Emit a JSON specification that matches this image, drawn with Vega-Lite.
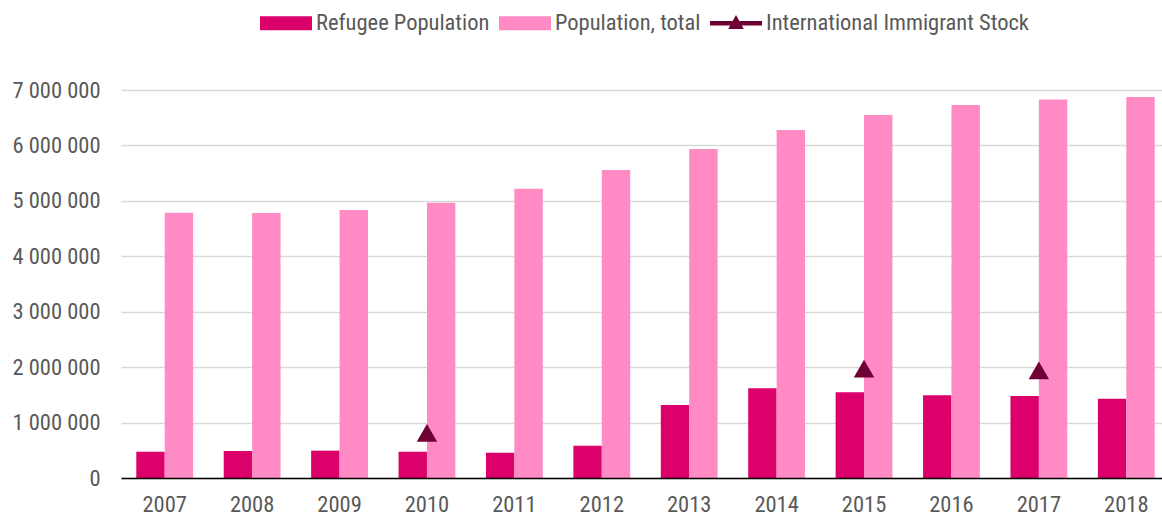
{
  "$schema": "https://vega.github.io/schema/vega-lite/v6.json",
  "width": 1049,
  "height": 388,
  "autosize": {"type": "none"},
  "padding": {"left": 121, "top": 90, "right": 0, "bottom": 37},
  "background": "white",
  "config": {
    "view": {"stroke": null},
    "font": "Roboto Condensed, Liberation Sans Narrow, Arial Narrow, Liberation Sans, sans-serif"
  },
  "data": {
    "values": [
      {"year": "2007", "series": "Refugee Population", "value": 474000},
      {"year": "2008", "series": "Refugee Population", "value": 487000},
      {"year": "2009", "series": "Refugee Population", "value": 493000},
      {"year": "2010", "series": "Refugee Population", "value": 474000},
      {"year": "2011", "series": "Refugee Population", "value": 456000},
      {"year": "2012", "series": "Refugee Population", "value": 583000},
      {"year": "2013", "series": "Refugee Population", "value": 1317000},
      {"year": "2014", "series": "Refugee Population", "value": 1618000},
      {"year": "2015", "series": "Refugee Population", "value": 1546000},
      {"year": "2016", "series": "Refugee Population", "value": 1492000},
      {"year": "2017", "series": "Refugee Population", "value": 1480000},
      {"year": "2018", "series": "Refugee Population", "value": 1431000},
      {"year": "2007", "series": "Population, total", "value": 4786000},
      {"year": "2008", "series": "Population, total", "value": 4780000},
      {"year": "2009", "series": "Population, total", "value": 4835000},
      {"year": "2010", "series": "Population, total", "value": 4967000},
      {"year": "2011", "series": "Population, total", "value": 5220000},
      {"year": "2012", "series": "Population, total", "value": 5557000},
      {"year": "2013", "series": "Population, total", "value": 5935000},
      {"year": "2014", "series": "Population, total", "value": 6278000},
      {"year": "2015", "series": "Population, total", "value": 6549000},
      {"year": "2016", "series": "Population, total", "value": 6730000},
      {"year": "2017", "series": "Population, total", "value": 6830000},
      {"year": "2018", "series": "Population, total", "value": 6874000},
      {"year": "2010", "series": "International Immigrant Stock", "value": 815000},
      {"year": "2015", "series": "International Immigrant Stock", "value": 1975000},
      {"year": "2017", "series": "International Immigrant Stock", "value": 1940000}
    ]
  },
  "encoding": {
    "x": {
      "field": "year",
      "type": "ordinal",
      "scale": {"paddingInner": 0.35, "paddingOuter": 0.175},
      "axis": {
        "title": null,
        "labelAngle": 0,
        "labelFontSize": 22.5,
        "labelColor": "#595959",
        "labelPadding": 15,
        "labelBaseline": "top",
        "ticks": false,
        "domainColor": "#000000",
        "domainWidth": 1.5,
        "grid": false,
        "zindex": 2
      }
    },
    "y": {
      "field": "value",
      "type": "quantitative",
      "scale": {"domain": [0, 7000000], "nice": false},
      "axis": {
        "title": null,
        "values": [0, 1000000, 2000000, 3000000, 4000000, 5000000, 6000000, 7000000],
        "labelExpr": "replace(format(datum.value, ','), /,/g, ' ')",
        "labelOverlap": false,
        "labelFontSize": 22.5,
        "labelColor": "#595959",
        "labelPadding": 21,
        "ticks": false,
        "domain": false,
        "grid": true,
        "gridColor": "#D9D9D9",
        "gridWidth": 1.5,
        "zindex": 0
      }
    },
    "color": {
      "field": "series",
      "type": "nominal",
      "scale": {
        "domain": ["Refugee Population", "Population, total", "International Immigrant Stock"],
        "range": ["#DC006B", "#FF8AC4", "#6E0035"]
      },
      "legend": {
        "title": null,
        "orient": "none",
        "direction": "horizontal",
        "legendX": 139,
        "legendY": -93,
        "padding": 0,
        "symbolSize": 2704,
        "symbolStrokeWidth": 0,
        "symbolOpacity": 1,
        "labelFontSize": 22.5,
        "labelLimit": 0,
        "labelColor": "#595959",
        "labelOffset": 4,
        "columnPadding": 9,
        "encode": {
          "symbols": {
            "update": {
              "shape": {"signal": "datum.value === 'International Immigrant Stock' ? 'M-1,-0.09H1V0.09H-1Z M-0.3,0.22L0,-0.32L0.3,0.22Z' : 'M-1,-0.27H1V0.27H-1Z'"},
              "strokeWidth": {"value": 0},
              "opacity": {"value": 1}
            }
          }
        }
      }
    }
  },
  "layer": [
    {
      "transform": [{"filter": "datum.series !== 'International Immigrant Stock'"}],
      "mark": {"type": "bar"},
      "encoding": {
        "xOffset": {
          "field": "series",
          "type": "nominal",
          "sort": ["Refugee Population", "Population, total"],
          "scale": {"paddingInner": 0, "paddingOuter": 0}
        }
      }
    },
    {
      "transform": [{"filter": "datum.series === 'International Immigrant Stock'"}],
      "mark": {"type": "point", "shape": "triangle-up", "filled": true, "size": 420, "opacity": 1}
    }
  ]
}
